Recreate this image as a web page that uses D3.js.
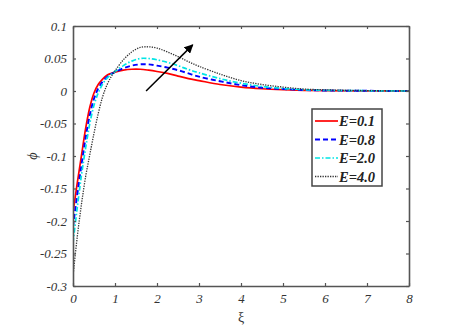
<!DOCTYPE html>
<html>
<head>
<meta charset="utf-8">
<script src="https://cdn.jsdelivr.net/npm/d3@7"></script>
<style>
  body { margin: 0; background: #fff; }
  text { font-family: "Liberation Serif", "Times New Roman", serif; }
</style>
</head>
<body>
<div id="chart"></div>
<script>
// data
var xi = [0, 0.1, 0.2, 0.3, 0.4, 0.5, 0.6, 0.7, 0.8, 0.9, 1.0, 1.2, 1.4, 1.6, 1.8, 2.0, 2.25, 2.5, 2.75, 3.0, 3.5, 4.0, 4.5, 5, 5.5, 6, 7, 8];
var phiE01 = [-0.188, -0.142, -0.1, -0.058, -0.025, -0.003, 0.01, 0.018, 0.024, 0.027, 0.029, 0.032, 0.0335, 0.0335, 0.032, 0.03, 0.027, 0.023, 0.019, 0.016, 0.01, 0.006, 0.0035, 0.002, 0.001, 0.0006, 0.0002, 0];
var phiE08 = [-0.209, -0.16, -0.115, -0.072, -0.037, -0.012, 0.004, 0.014, 0.021, 0.026, 0.029, 0.035, 0.039, 0.041, 0.041, 0.039, 0.036, 0.032, 0.027, 0.022, 0.015, 0.009, 0.005, 0.003, 0.0015, 0.0008, 0.0003, 0];
var phiE20 = [-0.234, -0.18, -0.13, -0.088, -0.05, -0.022, -0.003, 0.01, 0.019, 0.025, 0.03, 0.039, 0.046, 0.05, 0.05, 0.048, 0.044, 0.039, 0.033, 0.028, 0.019, 0.012, 0.007, 0.004, 0.002, 0.001, 0.0004, 0];
var phiE40 = [-0.285, -0.225, -0.175, -0.132, -0.098, -0.065, -0.035, -0.01, 0.008, 0.021, 0.031, 0.048, 0.06, 0.067, 0.068, 0.066, 0.06, 0.053, 0.045, 0.038, 0.026, 0.016, 0.01, 0.006, 0.003, 0.0018, 0.0006, 0];
var seriesNames = ["E=0.1", "E=0.8", "E=2.0", "E=4.0"];
var xTicks = [0, 1, 2, 3, 4, 5, 6, 7, 8];
var yTicks = [0.1, 0.05, 0, -0.05, -0.1, -0.15, -0.2, -0.25, -0.3];
var yTickLabels = ["0.1", "0.05", "0", "-0.05", "-0.1", "-0.15", "-0.2", "-0.25", "-0.3"];
// arrow: from (xi, phi) to (xi, phi)
var arrowPts = [[1.74, 0.0], [2.85, 0.071]];

function init() {
    var w = 464, h = 331;
    var padL = 73, padR = 409, padT = 26, padB = 286;

    var svg = d3.select("#chart").append("svg")
        .attr("width", w)
        .attr("height", h);

    var xScale = d3.scaleLinear().domain([0, 8]).range([padL, padR]);
    var yScale = d3.scaleLinear().domain([-0.3, 0.1]).range([padB, padT]);

    var styles = [
        { color: "#ff0000", width: 1.7, dash: null },
        { color: "#0000ff", width: 1.9, dash: "5,3" },
        { color: "#00e5e5", width: 1.7, dash: "5,2,1.5,2" },
        { color: "#333333", width: 1.3, dash: "1.3,1.2" }
    ];
    var allSeries = [phiE01, phiE08, phiE20, phiE40];

    var line = d3.line()
        .x(function (d, i) { return xScale(xi[i]); })
        .y(function (d) { return yScale(d); })
        .curve(d3.curveCatmullRom);

    var defs = svg.append("defs");
    defs.append("clipPath").attr("id", "clip")
        .append("rect").attr("x", padL).attr("y", padT)
        .attr("width", padR - padL).attr("height", padB - padT);

    var plot = svg.append("g");
    allSeries.forEach(function (s, k) {
        plot.append("path")
            .attr("d", line(s))
            .attr("fill", "none")
            .attr("clip-path", "url(#clip)")
            .attr("stroke", styles[k].color)
            .attr("stroke-width", styles[k].width)
            .attr("stroke-dasharray", styles[k].dash);
    });

    // axes (ticks pointing inwards)
    var axisColor = "#555";
    function styleAxis(g) {
        g.select(".domain").attr("stroke", axisColor).attr("stroke-width", 1.6);
        g.selectAll(".tick line").attr("stroke", axisColor).attr("stroke-width", 1.2);
        g.selectAll(".tick text")
            .attr("fill", "#333")
            .attr("font-size", "13px")
            .attr("font-style", "italic");
    }

    svg.append("g")
        .attr("transform", "translate(0," + padB + ")")
        .call(d3.axisBottom(xScale).tickValues(xTicks).tickSizeInner(-3).tickSizeOuter(0).tickPadding(8).tickFormat(d3.format("d")))
        .call(styleAxis);

    svg.append("g")
        .attr("transform", "translate(0," + padT + ")")
        .call(d3.axisTop(xScale).tickValues(xTicks).tickSizeInner(-3).tickSizeOuter(0).tickFormat(""))
        .call(styleAxis);

    svg.append("g")
        .attr("transform", "translate(" + padL + ",0)")
        .call(d3.axisLeft(yScale).tickValues(yTicks).tickSizeInner(-3).tickSizeOuter(0).tickPadding(6)
            .tickFormat(function (d, i) { return yTickLabels[i]; }))
        .call(styleAxis);

    svg.append("g")
        .attr("transform", "translate(" + padR + ",0)")
        .call(d3.axisRight(yScale).tickValues(yTicks).tickSizeInner(-3).tickSizeOuter(0).tickFormat(""))
        .call(styleAxis);

    // axis labels
    svg.append("text")
        .attr("x", (padL + padR) / 2)
        .attr("y", 322)
        .attr("text-anchor", "middle")
        .attr("font-size", "14px")
        .attr("fill", "#333")
        .text("ξ");

    svg.append("text")
        .attr("transform", "translate(37," + ((padT + padB) / 2) + ") rotate(-90)")
        .attr("text-anchor", "middle")
        .attr("font-size", "14px")
        .attr("font-style", "italic")
        .attr("fill", "#333")
        .text("ϕ");

    // arrow
    defs.append("marker")
        .attr("id", "head")
        .attr("viewBox", "0 0 10 10")
        .attr("refX", 9).attr("refY", 5)
        .attr("markerWidth", 9).attr("markerHeight", 9)
        .attr("markerUnits", "userSpaceOnUse")
        .attr("orient", "auto")
        .append("path")
        .attr("d", "M0,0 L10,5 L0,10 z")
        .attr("fill", "#000");

    svg.append("line")
        .attr("x1", xScale(arrowPts[0][0])).attr("y1", yScale(arrowPts[0][1]))
        .attr("x2", xScale(arrowPts[1][0])).attr("y2", yScale(arrowPts[1][1]))
        .attr("stroke", "#000")
        .attr("stroke-width", 1.5)
        .attr("marker-end", "url(#head)");

    // legend
    var lg = svg.append("g").attr("transform", "translate(312,109)");
    lg.append("rect")
        .attr("width", 70).attr("height", 77)
        .attr("fill", "#fff")
        .attr("stroke", "#444")
        .attr("stroke-width", 1.5);

    seriesNames.forEach(function (name, k) {
        var yy = 12 + k * 18.5;
        lg.append("line")
            .attr("x1", 3).attr("x2", 26)
            .attr("y1", yy).attr("y2", yy)
            .attr("stroke", styles[k].color)
            .attr("stroke-width", styles[k].width)
            .attr("stroke-dasharray", styles[k].dash);
        lg.append("text")
            .attr("x", 27)
            .attr("y", yy + 5)
            .attr("font-size", "14.5px")
            .attr("font-weight", "bold")
            .attr("font-style", "italic")
            .attr("fill", "#222")
            .text(name);
    });
}

window.onload = init;
</script>
</body>
</html>
